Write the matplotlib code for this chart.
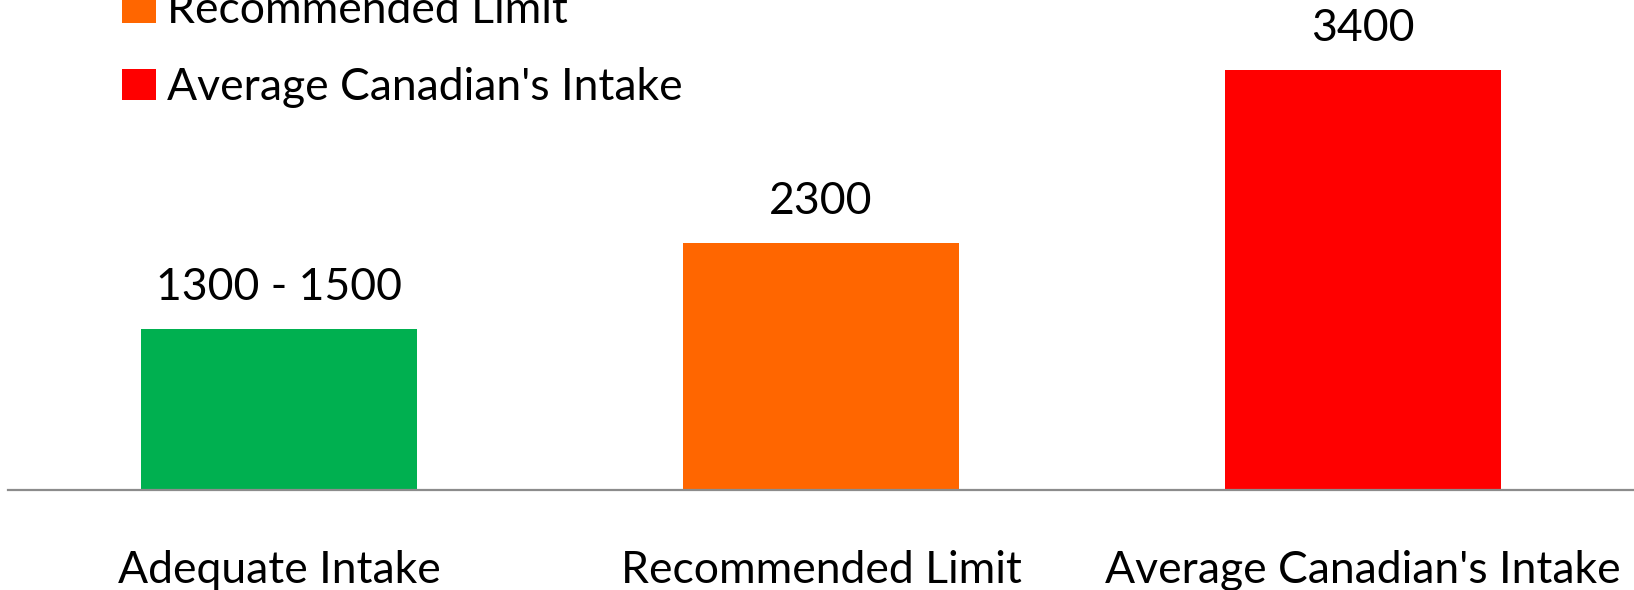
import matplotlib.pyplot as plt
from matplotlib.patches import Patch

plt.rcParams['font.family'] = ['Lato', 'DejaVu Sans']

categories = ["Adequate Intake", "Recommended Limit", "Average Canadian's Intake"]
bar_values = [1300, 2000, 3400]
value_labels = ["1300 - 1500", "2300", "3400"]
bar_colors = ["#00B050", "#FF6600", "#FF0000"]

fig = plt.figure(figsize=(16.34, 5.9), dpi=100)
ax = fig.add_axes([8 / 1634, 1 - 490 / 590, 1 - 8 / 1634, 490 / 590])

x = range(len(categories))
bars = ax.bar(x, bar_values, width=0.51, color=bar_colors, zorder=2)

for b, lab in zip(bars, value_labels):
    ax.annotate(lab, (b.get_x() + b.get_width() / 2, b.get_height()),
                xytext=(0, 30), textcoords='offset points',
                ha='center', va='center', fontsize=32, color='black')

ax.set_xlim(-0.5, 2.5)
ax.set_ylim(0, 3967)
ax.set_xticks(list(x))
ax.set_xticklabels(categories, fontsize=32)
ax.tick_params(axis='x', length=0, pad=43)
ax.set_yticks([])
for s in ['top', 'right', 'left']:
    ax.spines[s].set_visible(False)
ax.spines['bottom'].set_color('#8c8c8c')
ax.spines['bottom'].set_linewidth(1.6)

handles = [Patch(facecolor=c, edgecolor='none') for c in bar_colors]
fig.legend(handles, categories, loc='lower left',
           bbox_to_anchor=(91 / 1634, 1 - 139 / 590), frameon=False,
           fontsize=32, handlelength=0.77, handleheight=0.68,
           handletextpad=0.25, labelspacing=0.8, borderpad=0.2)

fig.savefig("out.png", dpi=100)
